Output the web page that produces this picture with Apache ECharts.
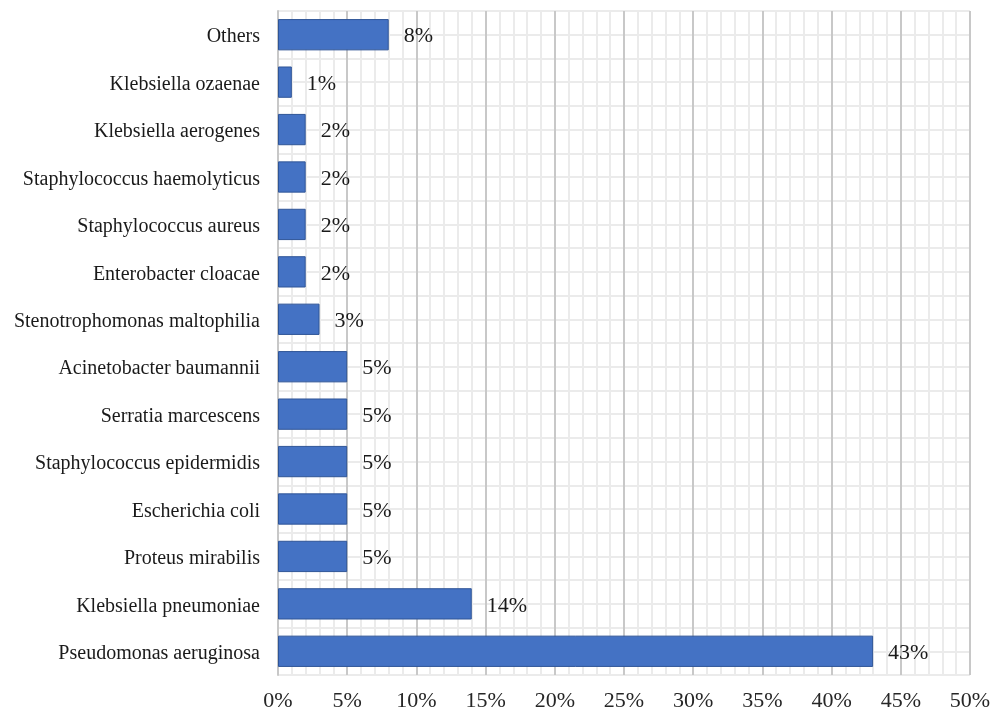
<!DOCTYPE html>
<html>
<head>
<meta charset="utf-8">
<script src="https://cdn.jsdelivr.net/npm/echarts@6/dist/echarts.min.js"></script>
<style>html,body{margin:0;padding:0;background:#fff}#c{width:1003px;height:712px}</style>
</head>
<body>
<div id="c"></div>
<script>
// bottom to top
const categories = [
  "Pseudomonas aeruginosa","Klebsiella pneumoniae","Proteus mirabilis","Escherichia coli",
  "Staphylococcus epidermidis","Serratia marcescens","Acinetobacter baumannii",
  "Stenotrophomonas maltophilia","Enterobacter cloacae","Staphylococcus aureus",
  "Staphylococcus haemolyticus","Klebsiella aerogenes","Klebsiella ozaenae","Others"
];
const values = [43,14,5,5,5,5,5,3,2,2,2,2,1,8];
const xTicks = {min:0, max:50, interval:5};

const font = "'Liberation Serif','Times New Roman',serif";
const chart = echarts.init(document.getElementById('c'), null, {renderer:'canvas'});
chart.setOption({
  animation:false,
  backgroundColor:'#fff',
  grid:{left:278, right:33, top:11, bottom:37, containLabel:false},
  xAxis:{
    type:'value', min:xTicks.min, max:xTicks.max, interval:xTicks.interval,
    axisLine:{show:false}, axisTick:{show:false},
    axisLabel:{formatter:v=>v+'%', fontFamily:font, fontSize:22, color:'#262626', margin:15},
    splitLine:{show:true, lineStyle:{color:'#c8c8c8', width:2}},
    minorTick:{show:false, splitNumber:5},
    minorSplitLine:{show:true, lineStyle:{color:'#ebebeb', width:2}}
  },
  yAxis:[{
    type:'category', data:categories,
    axisLine:{show:true, lineStyle:{color:'#c8c8c8', width:2}}, axisTick:{show:false},
    axisLabel:{fontFamily:font, fontSize:20, color:'#1a1a1a', margin:18,
      formatter:v=>'{a|'+v+'}',
      rich:{a:{fontFamily:font, fontSize:20, color:'#1a1a1a', padding:[5,0,0,0]}}},
    splitLine:{show:false}
  },{
    type:'value', min:0, max:categories.length*2, interval:1, position:'right',
    axisLine:{show:false}, axisTick:{show:false}, axisLabel:{show:false},
    splitLine:{show:true, lineStyle:{color:'#ebebeb', width:2}}
  }],
  series:[{
    type:'bar', data:values, yAxisIndex:0, barCategoryGap:'34%',
    itemStyle:{color:'#4472c4', borderColor:'#2f5597', borderWidth:1},
    label:{show:true, position:'right', distance:15, offset:[0,2], formatter:p=>p.value+'%',
      fontFamily:font, fontSize:22, color:'#1a1a1a'},
    z:3
  }]
});
</script>
</body>
</html>
